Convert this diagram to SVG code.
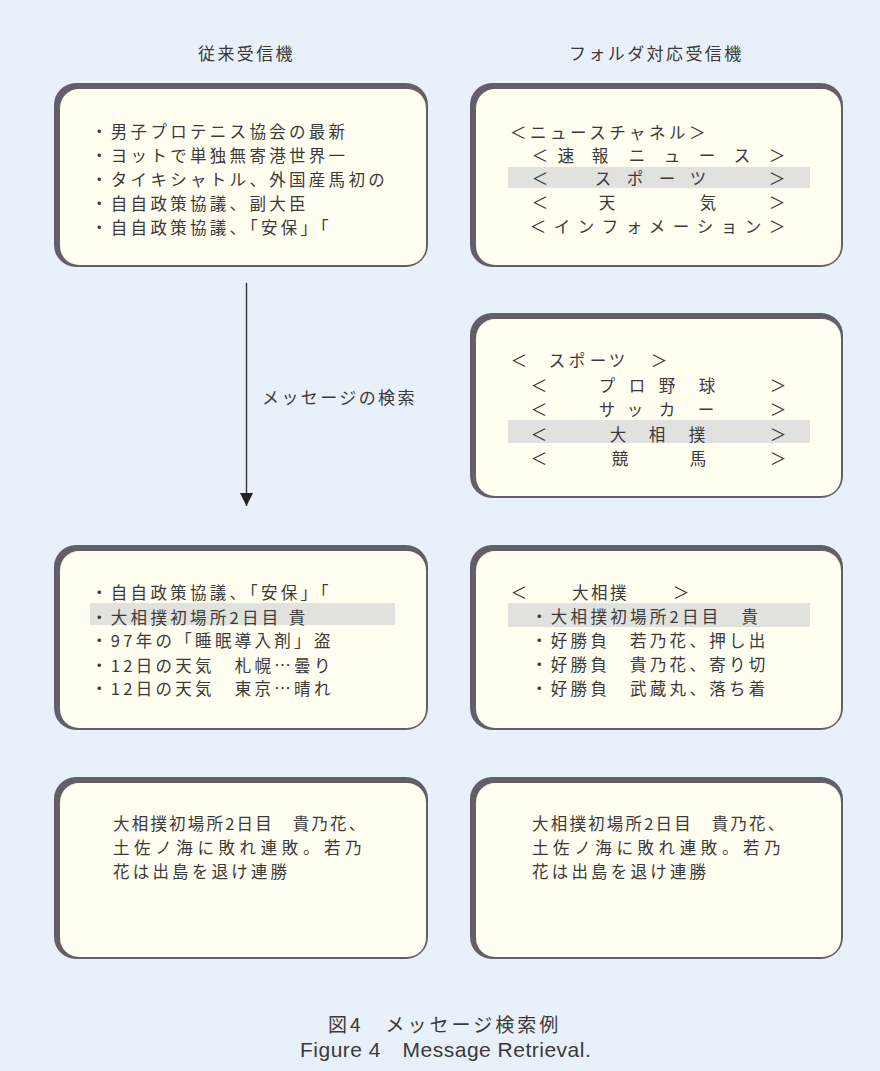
<svg xmlns="http://www.w3.org/2000/svg" width="880" height="1071" viewBox="0 0 880 1071">
<style>
.bg{fill:#e8f0f9}
.bo{fill:#635e67}
.bi{fill:#fffef0}
.hl{fill:#e1e1de}
.t{font-family:"Noto Sans CJK JP","Noto Sans CJK SC",sans-serif;font-size:16.5px;fill:#3a3a3a;letter-spacing:3.3px}
.c{text-anchor:middle;letter-spacing:0}
.h{font-family:"Noto Sans CJK JP","Noto Sans CJK SC",sans-serif;font-size:17px;fill:#3a3a3a;letter-spacing:2.4px}
.cap{font-family:"Noto Sans CJK JP","Noto Sans CJK SC",sans-serif;font-size:19px;fill:#3a3a3a;letter-spacing:3px}
.en{font-family:"Liberation Sans","Noto Sans CJK JP",sans-serif;font-size:21px;fill:#3a3a3a;letter-spacing:0.5px}
.ln{stroke:#333;stroke-width:1.4;fill:none}
</style>
<defs>
<marker id="ah" markerWidth="14" markerHeight="14" refX="13" refY="7" orient="auto" markerUnits="userSpaceOnUse" viewBox="0 0 14 14">
<path d="M0,0.5 L13,7 L0,13.5 Z" fill="#222"/>
</marker>
</defs>
<rect class="bg" x="0" y="0" width="880" height="1071"/>

<text class="h" x="198" y="60">従来受信機</text>
<text class="h" x="569" y="60">フォルダ対応受信機</text>

<g id="old-list-1">
<rect class="bo" x="54" y="83" width="374" height="184" rx="22"/>
<rect class="bi" x="60" y="89" width="366" height="176" rx="19"/>
<text class="t" x="91" y="138">・男子プロテニス協会の最新</text>
<text class="t" x="91" y="162">・ヨットで単独無寄港世界一</text>
<text class="t" x="91" y="186">・タイキシャトル、外国産馬初の</text>
<text class="t" x="91" y="210">・自自政策協議、副大臣</text>
<text class="t" x="91" y="234">・自自政策協議、「安保」「</text>
</g>

<g id="folder-channel">
<rect class="bo" x="470" y="83" width="373" height="184" rx="22"/>
<rect class="bi" x="476" y="89" width="365" height="176" rx="19"/>
<rect class="hl" x="508" y="167" width="302" height="21"/>
<text class="t" x="510" y="139" style="letter-spacing:3.5px">＜ニュースチャネル＞</text>
<text class="t c" x="540 566 600 637 672 707 742 777" y="162">＜速報ニュース＞</text>
<text class="t c" x="540 603 635 667 698 777" y="185">＜スポーツ＞</text>
<text class="t c" x="540 607 708 777" y="209">＜天気＞</text>
<text class="t c" x="538 562 586 610 634 657 681 705 729 753 777" y="233">＜インフォメーション＞</text>
</g>

<g id="folder-sports">
<rect class="bo" x="470" y="313" width="373" height="185" rx="22"/>
<rect class="bi" x="476" y="319" width="365" height="177" rx="19"/>
<rect class="hl" x="508" y="420" width="302" height="23"/>
<text class="t c" x="519 557 577 598 617 659" y="367">＜スポーツ＞</text>
<text class="t c" x="539 607 637 667 707 778" y="392">＜プロ野球＞</text>
<text class="t c" x="539 607 635 667 706 778" y="416">＜サッカー＞</text>
<text class="t c" x="539 618 657 697 778" y="441">＜大相撲＞</text>
<text class="t c" x="539 620 698 778" y="465">＜競馬＞</text>
</g>

<g id="old-list-2">
<rect class="bo" x="54" y="545" width="374" height="185" rx="22"/>
<rect class="bi" x="60" y="551" width="366" height="177" rx="19"/>
<rect class="hl" x="90" y="603" width="305" height="22"/>
<text class="t" x="91" y="599">・自自政策協議、「安保」「</text>
<text class="t" x="91" y="624">・大相撲初場所2日目 貴</text>
<text class="t" x="91" y="647">・97年の「睡眠導入剤」盗</text>
<text class="t" x="91" y="672">・12日の天気　札幌…曇り</text>
<text class="t" x="91" y="695">・12日の天気　東京…晴れ</text>
</g>

<g id="folder-sumo">
<rect class="bo" x="470" y="545" width="373" height="185" rx="22"/>
<rect class="bi" x="476" y="551" width="365" height="177" rx="19"/>
<rect class="hl" x="508" y="603" width="302" height="24"/>
<text class="t c" x="519" y="599">＜</text>
<text class="t" x="572" y="599" style="letter-spacing:2.5px">大相撲</text>
<text class="t c" x="681" y="599">＞</text>
<text class="t" x="531" y="623">・大相撲初場所2日目　貴</text>
<text class="t" x="531" y="647">・好勝負　若乃花、押し出</text>
<text class="t" x="531" y="671">・好勝負　貴乃花、寄り切</text>
<text class="t" x="531" y="695">・好勝負　武蔵丸、落ち着</text>
</g>

<g id="old-message">
<rect class="bo" x="54" y="777" width="374" height="182" rx="22"/>
<rect class="bi" x="60" y="783" width="366" height="174" rx="19"/>
<text class="t" x="113" y="830" style="letter-spacing:2.2px">大相撲初場所2日目　貴乃花、</text>
<text class="t" x="113" y="854" style="letter-spacing:4.6px">土佐ノ海に敗れ連敗。若乃</text>
<text class="t" x="113" y="878" style="letter-spacing:3.2px">花は出島を退け連勝</text>
</g>

<g id="folder-message">
<rect class="bo" x="470" y="777" width="373" height="182" rx="22"/>
<rect class="bi" x="476" y="783" width="365" height="174" rx="19"/>
<text class="t" x="532" y="830" style="letter-spacing:2.2px">大相撲初場所2日目　貴乃花、</text>
<text class="t" x="532" y="854" style="letter-spacing:4.6px">土佐ノ海に敗れ連敗。若乃</text>
<text class="t" x="532" y="878" style="letter-spacing:3.2px">花は出島を退け連勝</text>
</g>

<g id="connectors">
<line class="ln" x1="246.5" y1="283" x2="246.5" y2="506" marker-end="url(#ah)"/>
<text class="h" x="262" y="404">メッセージの検索</text>
</g>

<text class="cap" x="328" y="1032">図4　メッセージ検索例</text>
<text class="en" x="300" y="1057">Figure 4　Message Retrieval.</text>
</svg>
